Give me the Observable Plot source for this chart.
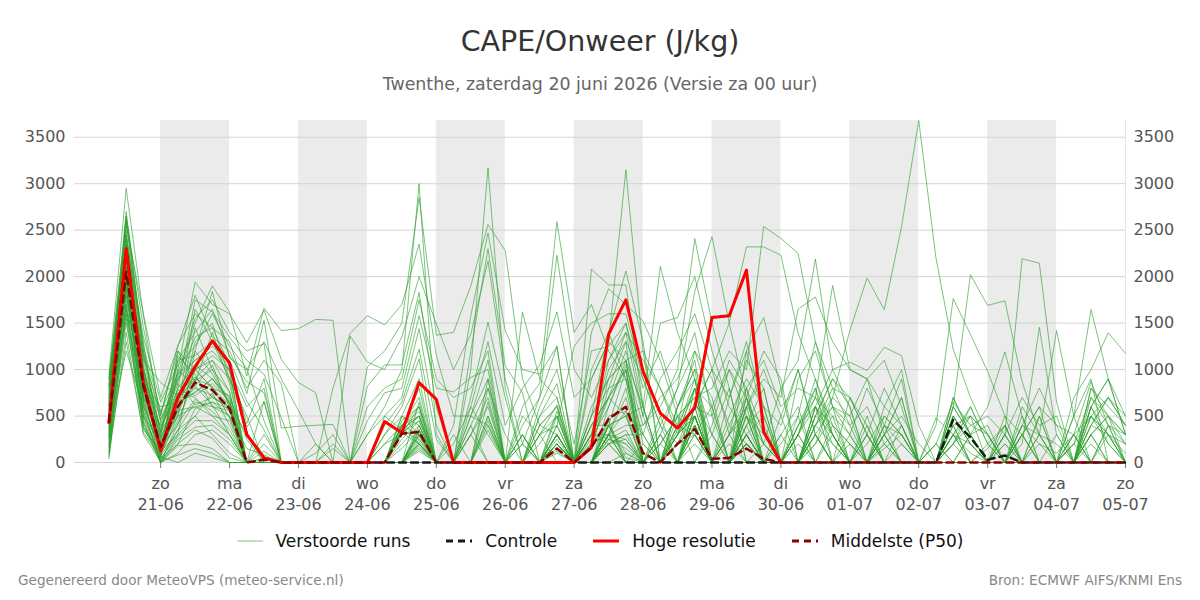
<!DOCTYPE html>
<html>
<head>
<meta charset="utf-8">
<script src="https://cdn.jsdelivr.net/npm/d3@7"></script>
<script src="https://cdn.jsdelivr.net/npm/@observablehq/plot@0.6"></script>
<style>
  body { margin: 0; background: #fff; font-family: "DejaVu Sans", sans-serif; }
  #wrap { position: relative; width: 1200px; height: 600px; overflow: hidden; }
  #title { position: absolute; top: 22px; left: 0; width: 1200px; text-align: center; font-size: 28.5px; line-height: 40px; color: #333; }
  #subtitle { position: absolute; top: 72px; left: 0; width: 1200px; text-align: center; font-size: 17.4px; line-height: 24px; color: #666; }
  #chart { position: absolute; top: 100px; left: 0; }
  #legend { position: absolute; top: 528px; left: 0; width: 1200px; display: flex; justify-content: center; font-size: 17px; line-height: 26px; color: #111; }
  #legend .item { display: flex; align-items: center; margin: 0 18px; }
  #legend svg { margin-right: 13px; }
  #foot-left { position: absolute; top: 571px; left: 18px; font-size: 13.6px; line-height: 18px; color: #888; }
  #foot-right { position: absolute; top: 571px; right: 18px; font-size: 13.6px; line-height: 18px; color: #888; }
</style>
</head>
<body>
<div id="wrap">
  <div id="title">CAPE/Onweer (J/kg)</div>
  <div id="subtitle">Twenthe, zaterdag 20 juni 2026 (Versie za 00 uur)</div>
  <div id="chart"></div>
  <div id="legend"></div>
  <div id="foot-left">Gegenereerd door MeteoVPS (meteo-service.nl)</div>
  <div id="foot-right">Bron: ECMWF AIFS/KNMI Ens</div>
</div>
<script>
// Forecast time axis: 6-hourly steps from the first forecast time
const firstTime = "2026-06-20T06:00Z";
const stepHours = 6;
const nSteps = 60;

// Day ticks and their Dutch weekday abbreviations
const tickDays = ["2026-06-21","2026-06-22","2026-06-23","2026-06-24","2026-06-25","2026-06-26","2026-06-27",
                  "2026-06-28","2026-06-29","2026-06-30","2026-07-01","2026-07-02","2026-07-03","2026-07-04","2026-07-05"];
const weekdays = ["zo","ma","di","wo","do","vr","za"];
const shadedDays = ["2026-06-21","2026-06-23","2026-06-25","2026-06-27","2026-06-29","2026-07-01","2026-07-03"];
const yTicks = [0, 500, 1000, 1500, 2000, 2500, 3000, 3500];
const yMax = 3680;

// High-resolution run (CAPE, J/kg) – available up to 30-06 00 uur
const hires = [430,2300,850, 130,700,1030,1310, 1070,300,50,0, 0,0,0,0, 0,440,320,860, 680,0,0,0,
               0,0,0,0, 0,160,1380,1750, 980,530,370,590, 1560,1580,2070,330, 0];

// Control run
const control = [430,2300,850, 130,700,1030,1310, 1070,300,50,0, 0,0,0,0, 0,0,0,0, 0,0,0,0,
                 0,0,0,0, 0,0,0,0, 0,0,0,0, 0,0,0,0, 0,0,0,0, 0,0,0,0, 0,0,460,270, 30,75,0,0, 0,0,0,0, 0];

// Ensemble median (P50)
const median = [440,2050,820, 170,600,860,780, 580,0,30,0, 0,0,0,0, 0,0,310,330, 0,0,0,0,
                0,0,0,150, 0,160,470,600, 100,0,200,360, 40,50,150,40, 0,0,0,0, 0,0,0,0, 0,0,0,0, 0,0,0,0, 0,0,0,0, 0];

// Perturbed ensemble members (50 runs)
const members = [
  [950,2950,1580, 420,900,1500,1900, 1620,930,1660,1420, 1440,1540,1530,0, 0,0,0,120, 0,0,300,600, 0,0,300,620, 0,150,800,1300, 900,400,200,650, 300,0,0,200, 0,300,600,200, 0,0,150,300, 0,0,300,200, 0,0,0,200, 100,300,500,200, 0],
  [820,2700,1200, 300,1000,1940,1700, 1600,1290,1640,1110, 860,750,0,0, 0,0,0,650, 0,0,500,900, 0,200,700,1250, 0,300,1100,1500, 600,0,350,900, 0,0,400,800, 0,300,0,0, 0,0,300,0, 0,0,0,0, 150,400,0,300, 0,0,300,500, 0],
  [700,2650,1450, 500,1260,1600,1450, 1300,740,1530,370, 390,400,410,0, 0,500,700,1440, 400,0,300,700, 0,0,0,200, 0,0,500,550, 300,0,0,400, 0,0,1200,500, 0,400,800,0, 0,0,0,0, 0,0,300,100, 0,200,0,0, 0,0,400,700, 400],
  [600,2600,1100, 860,720,1200,1840, 1120,1000,1300,900, 560,200,0,0, 0,0,400,550, 0,0,400,0, 0,300,0,400, 0,250,600,1050, 400,700,900,1400, 500,0,300,0, 0,0,0,0, 700,400,0,0, 0,0,400,0, 0,0,300,0, 0,300,0,0, 0],
  [880,2500,1000, 250,800,1750,1620, 1350,1100,950,480, 0,0,0,0, 300,600,1000,3000, 300,0,0,0, 0,0,400,600, 0,200,900,1100, 200,0,0,600, 1000,300,0,0, 0,0,0,0, 0,400,0,0, 0,0,0,0, 0,0,400,200, 0,0,500,300, 200],
  [500,2450,950, 100,1100,1400,1650, 1150,870,750,0, 0,0,0,0, 0,0,500,900, 0,0,0,350, 0,0,0,300, 0,500,1400,900, 0,0,600,1100, 0,300,700,200, 800,0,0,0, 0,0,600,1000, 0,0,0,0, 0,0,0,0, 0,0,0,0, 0],
  [430,2400,900, 200,600,1650,1300, 1000,0,660,0, 0,0,0,0, 0,0,350,800, 0,0,1000,3170, 800,0,0,0, 0,0,400,500, 0,500,0,0, 300,800,0,0, 0,0,0,0, 200,0,0,0, 0,0,0,0, 0,0,0,0, 0,0,0,0, 0],
  [300,2350,1300, 80,500,1300,1500, 900,0,300,0, 0,0,0,0, 0,0,400,700, 0,300,0,0, 0,500,300,0, 0,0,600,1100, 1200,800,300,800, 0,0,400,600, 400,1000,300,0, 0,300,800,400, 0,0,0,0, 0,0,0,0, 0,0,0,0, 0],
  [650,2300,820, 150,950,1100,1200, 980,0,0,0, 0,0,0,0, 0,0,350,500, 0,400,1580,2470, 1420,1000,950,1250, 0,0,300,550, 0,0,0,500, 0,0,500,0, 0,0,300,600, 500,0,0,0, 0,0,200,500, 300,0,0,0, 0,200,700,400, 200],
  [200,2250,700, 400,700,900,1100, 760,0,0,0, 0,0,0,0, 0,0,320,450, 0,0,1200,2300, 1040,750,0,550, 0,400,700,1000, 0,0,200,300, 600,0,0,0, 0,400,600,0, 0,0,0,0, 0,0,0,0, 0,0,0,0, 0,0,0,0, 0],
  [780,2200,1050, 50,1200,860,1400, 850,0,0,0, 0,0,0,0, 0,0,0,400, 0,0,700,1510, 700,0,0,0, 0,500,800,900, 0,0,0,0, 0,0,700,1200, 900,0,0,0, 0,0,0,0, 0,0,0,0, 0,0,0,0, 0,0,0,0, 0],
  [100,2150,600, 180,400,1000,800, 720,0,0,0, 0,0,0,0, 0,0,0,360, 0,0,600,1300, 400,800,1050,1620, 700,900,1300,1100, 600,0,0,0, 0,500,900,600, 0,0,0,0, 0,0,0,0, 0,0,200,400, 300,0,0,0, 0,0,300,0, 0],
  [560,2100,880, 600,650,750,900, 680,0,120,0, 0,0,0,0, 0,0,0,340, 0,0,0,900, 0,600,850,2590, 1400,1700,1200,900, 300,0,0,0, 400,1000,700,0, 300,600,0,0, 0,0,0,0, 0,0,600,300, 0,300,0,500, 0,0,600,900, 500],
  [350,2100,780, 120,300,1200,950, 640,0,0,0, 0,0,0,0, 0,0,0,330, 0,0,0,800, 0,400,700,2230, 1000,700,1100,1400, 500,0,0,300, 0,300,1100,800, 0,0,600,300, 0,0,300,700, 0,200,0,0, 0,0,0,0, 0,0,0,0, 0],
  [900,2050,1150, 350,850,620,700, 600,0,0,0, 0,0,0,0, 0,0,0,300, 0,0,0,650, 0,0,600,1000, 200,1200,1250,1500, 800,1200,600,1000, 700,0,0,0, 0,0,500,900, 700,300,0,0, 0,0,0,0, 0,0,0,0, 0,0,0,0, 0],
  [250,2000,650, 60,1000,820,1050, 590,0,200,0, 0,0,0,0, 0,0,0,280, 0,0,0,500, 0,0,500,850, 0,600,900,1400, 1100,800,400,1200, 900,400,200,0, 0,300,700,500, 300,0,0,0, 0,0,300,600, 200,0,500,0, 0,0,0,400, 0],
  [620,1950,500, 230,550,1450,1000, 620,300,0,0, 0,0,0,0, 0,0,0,250, 0,0,0,400, 0,1620,900,700, 0,300,1000,1300, 0,0,0,500, 0,200,0,0, 500,1000,300,0, 0,0,0,0, 0,0,0,0, 0,0,0,0, 0,0,0,0, 0],
  [160,1900,420, 40,200,580,650, 580,0,0,0, 0,0,0,0, 0,0,0,220, 0,0,0,0, 0,0,300,400, 1250,1500,1600,1600, 900,400,0,0, 0,700,1300,600, 0,0,400,800, 700,300,0,0, 0,0,500,200, 0,0,0,0, 0,300,0,0, 0],
  [720,1850,980, 280,1150,950,600, 500,150,80,0, 0,0,0,0, 0,0,0,200, 0,0,0,0, 0,0,0,300, 0,2080,1910,1910, 600,0,300,800, 600,1000,500,0, 0,300,900,400, 200,0,400,900, 0,200,0,0, 0,0,300,600, 0,0,800,500, 300],
  [480,1800,760, 140,750,700,500, 450,0,0,0, 0,0,0,0, 0,0,0,180, 0,0,0,0, 0,0,0,200, 0,1400,1870,1700, 1520,1100,500,0, 0,0,600,1000, 500,0,300,0, 0,0,0,0, 0,0,0,0, 0,200,0,0, 0,0,300,0, 0],
  [40,1750,540, 20,350,500,750, 400,0,0,0, 0,0,0,0, 0,0,0,160, 0,0,0,0, 0,0,0,150, 0,1000,1400,2060, 1300,0,300,600, 500,1100,800,0, 0,0,500,900, 600,0,0,0, 0,0,0,0, 0,0,0,0, 0,0,0,0, 0],
  [390,1700,380, 90,600,820,620, 300,0,0,0, 0,0,0,0, 0,0,0,140, 0,0,0,0, 0,0,0,120, 0,900,1300,3150, 1200,0,200,500, 0,300,500,200, 0,200,0,0, 0,0,0,0, 0,0,0,0, 0,0,0,0, 0,0,0,0, 0],
  [840,1650,1000, 470,900,1100,1250, 1100,660,350,0, 0,0,0,0, 450,750,800,1580, 800,760,915,1000, 0,0,300,500, 0,300,700,1200, 500,1500,1560,2000, 1200,600,300,0, 0,0,200,700, 500,900,300,0, 0,0,0,300, 0,0,0,0, 0,0,500,300, 0],
  [520,1600,700, 0,250,380,400, 250,0,0,0, 0,0,0,0, 0,0,500,400, 0,0,0,500, 0,0,0,200, 0,400,400,500, 600,2110,1400,900, 300,0,300,0, 200,500,0,0, 300,0,0,0, 0,0,0,0, 0,0,400,300, 0,200,0,0, 0],
  [280,1550,350, 130,800,1050,900, 700,250,0,0, 0,0,0,0, 0,0,400,500, 0,200,600,300, 0,0,0,250, 0,200,300,400, 400,600,1000,2410, 1500,800,0,0, 0,300,800,300, 0,0,500,300, 0,0,0,0, 0,0,0,0, 0,0,0,0, 0],
  [660,2550,1600, 700,1250,1800,1350, 1200,800,1100,850, 0,0,800,1390, 1580,1480,1700,2350, 1150,500,500,400, 0,300,0,300, 0,0,300,200, 0,300,800,1840, 2430,1500,700,0, 0,0,0,0, 0,200,500,300, 0,0,400,500, 300,0,400,800, 400,0,600,900, 300],
  [150,1500,450, 0,100,300,350, 200,0,0,0, 0,0,0,0, 0,0,0,0, 0,0,0,0, 0,0,0,200, 0,300,200,300, 300,900,1200,1600, 1000,1500,2320,2320, 2230,1390,900,300, 0,0,300,700, 0,0,400,0, 0,500,300,0, 0,300,870,400, 0],
  [580,2650,1250, 550,950,1550,1750, 1400,1200,1280,0, 0,0,0,1360, 1080,1000,1350,2000, 1490,1000,1380,2170, 900,200,0,300, 0,0,400,100, 0,0,500,700, 800,1200,1000,2540, 2410,2250,1300,600, 300,800,400,0, 0,480,300,0, 0,0,600,300, 200,0,700,500, 200],
  [450,2000,870, 170,700,880,1000, 760,0,50,0, 0,0,0,0, 0,0,450,600, 0,0,500,1100, 0,0,0,200, 0,0,250,350, 0,0,300,600, 1000,700,1200,1560, 800,1100,2190,1000, 600,0,0,0, 0,0,200,600, 200,400,0,0, 0,200,500,700, 500],
  [760,2300,1100, 320,680,1000,1100, 900,380,650,0, 0,0,0,0, 0,400,650,1220, 250,0,400,800, 300,0,500,700, 0,500,900,1100, 0,0,0,200, 0,0,600,900, 700,1650,1780,1300, 1000,900,1100,600, 0,0,700,300, 600,1190,500,0, 0,0,400,300, 0],
  [330,1200,600, 0,180,200,150, 0,0,0,0, 0,0,0,0, 0,200,400,600, 0,0,0,0, 0,0,0,300, 0,0,300,250, 0,0,400,500, 0,0,800,1100, 600,800,700,1905, 1000,900,600,400, 0,200,650,400, 500,300,0,0, 300,0,800,600, 400],
  [120,1300,320, 60,0,100,50, 0,0,0,0, 0,0,0,0, 0,0,300,500, 0,0,0,0, 0,0,0,0, 0,0,200,0, 0,0,0,400, 0,0,200,0, 0,0,400,700, 1420,1985,1644,2535, 3680,2200,1220,700, 300,0,0,0, 0,0,0,0, 0],
  [470,2050,820, 210,500,600,500, 300,0,0,0, 0,200,0,0, 0,0,350,500, 0,0,300,0, 0,0,0,100, 0,0,400,1000, 0,0,600,1000, 0,0,500,300, 0,0,200,500, 0,500,0,0, 0,400,1763,1380, 980,500,0,0, 0,0,300,500, 300],
  [690,2200,940, 380,780,720,850, 660,0,30,0, 0,0,0,0, 0,0,400,300, 0,0,0,450, 0,0,0,200, 0,400,700,500, 0,0,400,800, 0,300,600,0, 0,300,0,0, 0,0,200,400, 0,0,600,2020, 1690,1740,870,300, 0,0,0,300, 0],
  [230,1900,560, 0,420,680,550, 350,0,0,0, 0,0,0,0, 0,0,0,200, 0,0,0,0, 0,0,0,200, 0,300,250,150, 0,0,0,500, 0,0,300,500, 0,0,400,600, 400,0,0,0, 0,0,300,0, 0,300,2192,2145, 650,0,0,0, 0],
  [810,2400,1350, 650,1050,1250,1600, 1250,1010,450,0, 0,0,0,0, 1030,1200,1500,2850, 1370,1400,1900,2560, 2280,900,400,300, 0,0,300,0, 0,0,0,300, 0,0,400,0, 0,0,600,400, 200,0,0,0, 0,0,500,200, 0,0,300,600, 400,300,0,0, 0],
  [60,1400,300, 10,80,150,100, 0,0,0,0, 0,0,0,0, 0,0,200,400, 0,0,0,0, 0,0,0,0, 0,0,200,0, 0,0,300,500, 0,0,0,0, 0,0,300,0, 0,300,0,0, 0,0,0,0, 0,0,200,1455, 300,0,600,200, 0],
  [540,2150,740, 150,620,800,720, 560,0,0,0, 0,0,150,0, 0,0,330,300, 0,0,0,0, 0,0,0,200, 0,300,300,700, 0,0,0,400, 0,0,700,200, 0,0,0,0, 0,0,400,300, 0,0,300,500, 0,0,0,300, 1420,500,0,0, 0],
  [380,1950,660, 100,450,900,820, 480,0,0,0, 0,0,0,0, 0,0,0,200, 0,0,0,0, 0,0,0,200, 0,0,200,300, 0,200,0,500, 0,0,300,0, 0,0,0,400, 0,0,0,0, 0,0,0,0, 0,300,0,0, 0,500,1646,900, 300],
  [920,2600,1200, 450,870,1350,1450, 1050,420,900,0, 0,0,0,0, 820,1050,1050,1830, 600,0,0,0, 0,0,0,400, 0,0,400,0, 0,300,0,800, 0,0,500,0, 0,0,500,300, 0,0,300,0, 0,0,0,0, 0,0,0,500, 0,700,1000,1395, 1174],
  [270,1650,480, 40,300,500,300, 100,0,0,0, 0,0,0,0, 0,300,500,300, 0,0,0,0, 0,0,0,0, 0,0,0,0, 0,0,200,400, 0,0,200,0, 0,0,0,0, 0,0,200,0, 0,0,0,0, 0,0,0,0, 0,0,0,0, 0],
  [600,2100,920, 270,640,760,900, 640,0,0,0, 0,100,300,0, 300,500,350,250, 0,0,0,0, 0,0,200,500, 0,200,700,1000, 0,0,600,900, 0,400,800,300, 0,500,1300,800, 400,600,200,0, 0,0,700,300, 400,0,0,0, 0,0,600,300, 100],
  [410,1800,700, 160,520,1000,800, 620,0,0,0, 0,0,0,0, 0,0,0,300, 0,0,0,0, 0,300,0,300, 0,0,250,200, 0,400,800,1200, 600,0,300,0, 0,0,600,1000, 1080,990,1240,1150, 400,0,0,0, 0,0,0,0, 0,500,900,0, 0],
  [190,1700,420, 0,200,350,260, 50,0,0,0, 0,0,0,0, 0,0,250,450, 0,0,0,0, 0,0,0,0, 0,0,300,0, 0,0,0,400, 0,0,200,0, 300,0,0,300, 0,0,0,200, 0,0,200,0, 0,0,300,0, 0,0,200,0, 0],
  [730,2350,1000, 330,1100,1150,1300, 900,500,0,0, 0,0,200,0, 0,300,600,1115, 0,0,0,0, 0,0,400,600, 0,0,300,800, 0,200,500,300, 0,0,600,400, 0,900,1200,600, 0,0,300,500, 200,0,600,300, 0,300,700,400, 500,0,0,400, 300],
  [300,2000,500, 70,350,650,600, 560,0,0,0, 0,0,0,0, 0,200,300,600, 0,0,0,0, 0,0,0,0, 0,0,400,50, 0,300,0,600, 0,0,200,0, 0,0,300,0, 0,0,0,0, 0,0,0,300, 0,0,0,0, 0,0,0,0, 0],
  [840,2450,1150, 520,1200,1000,1150, 1000,600,800,0, 0,0,0,0, 600,800,900,1750, 900,700,800,1200, 0,200,0,500, 0,0,300,0, 200,0,0,600, 0,0,300,0, 0,400,700,300, 0,0,0,400, 0,0,500,200, 0,400,0,0, 0,0,400,700, 400],
  [90,1600,380, 0,280,450,450, 300,0,0,0, 0,0,0,0, 0,0,150,350, 0,0,0,0, 0,0,0,0, 0,0,0,100, 0,0,400,300, 0,0,200,0, 0,0,0,0, 0,0,0,0, 0,0,0,0, 0,0,0,0, 0,0,0,0, 0],
  [620,2250,850, 230,740,920,700, 600,0,0,0, 0,0,0,0, 0,0,380,200, 0,0,0,0, 0,0,0,0, 0,0,200,250, 0,200,500,700, 0,0,200,0, 0,0,400,200, 0,300,0,0, 0,0,0,0, 200,0,0,0, 0,0,0,0, 0],
  [350,1850,620, 110,560,600,650, 500,0,0,0, 0,0,0,0, 0,0,320,200, 0,0,0,0, 0,0,0,0, 0,0,450,0, 0,0,300,500, 0,0,200,0, 0,0,0,0, 0,0,400,200, 0,0,0,0, 0,0,0,0, 0,0,0,0, 0]
];

const HOUR = 3600 * 1000, DAY = 24 * HOUR;
const t0 = new Date(firstTime).getTime();
const times = d3.range(nSteps).map(i => new Date(t0 + i * stepHours * HOUR));
const utcDay = s => new Date(s + "T00:00Z");
const xStart = new Date(t0 - 12 * HOUR);
const xEnd = utcDay(tickDays[tickDays.length - 1]);

const toRows = arr => arr.map((v, i) => ({t: times[i], v}));
const perturbedRows = members.flatMap((row, m) => row.map((v, i) => ({t: times[i], v, m})));

const green = "#2ca02c";
const font = '"DejaVu Sans", sans-serif';
const dayFmt = d => `${weekdays[d.getUTCDay()]}\n${String(d.getUTCDate()).padStart(2, "0")}-${String(d.getUTCMonth() + 1).padStart(2, "0")}`;

const chart = Plot.plot({
  width: 1200,
  height: 420,
  marginTop: 20,
  marginBottom: 58,
  marginLeft: 74,
  marginRight: 75,
  style: {fontFamily: font, fontSize: "16px", color: "#555", background: "transparent"},
  x: {type: "utc", domain: [xStart, xEnd]},
  y: {domain: [0, yMax]},
  marks: [
    Plot.rect(shadedDays, {x1: d => utcDay(d), x2: d => new Date(utcDay(d).getTime() + DAY), fill: "#ebebeb"}),
    Plot.gridY(yTicks, {stroke: "#d4d4d4", strokeOpacity: 1, strokeWidth: 1}),
    Plot.ruleX([xEnd], {stroke: "#e4e4e4"}),
    Plot.axisY(yTicks, {anchor: "left", tickSize: 0, tickPadding: 9, tickFormat: "d", label: null, fill: "#555"}),
    Plot.axisY(yTicks, {anchor: "right", tickSize: 0, tickPadding: 8, tickFormat: "d", label: null, fill: "#555"}),
    Plot.axisX(tickDays.map(utcDay), {tickSize: 6, tickPadding: 6, tickFormat: dayFmt, lineHeight: 1.3, label: null, stroke: "#777", fill: "#555"}),
    Plot.line(perturbedRows, {x: "t", y: "v", z: "m", stroke: green, strokeWidth: 1, strokeOpacity: 0.62}),
    Plot.line(toRows(control), {x: "t", y: "v", stroke: "#1a1a1a", strokeWidth: 2.5, strokeDasharray: "7,5"}),
    Plot.line(toRows(hires), {x: "t", y: "v", stroke: "#ff0000", strokeWidth: 3}),
    Plot.line(toRows(median), {x: "t", y: "v", stroke: "#8b0000", strokeWidth: 2.5, strokeDasharray: "7,5"})
  ]
});
document.getElementById("chart").appendChild(chart);

// Legend entries
const legendItems = [
  {label: "Verstoorde runs", stroke: green, width: 1, opacity: 0.6, dash: null},
  {label: "Controle", stroke: "#1a1a1a", width: 3, opacity: 1, dash: "7,5"},
  {label: "Hoge resolutie", stroke: "#ff0000", width: 3, opacity: 1, dash: null},
  {label: "Middelste (P50)", stroke: "#8b0000", width: 3, opacity: 1, dash: "7,5"}
];
const legend = document.getElementById("legend");
for (const it of legendItems) {
  const item = document.createElement("div");
  item.className = "item";
  item.innerHTML = `<svg width="26" height="12"><line x1="0" y1="6" x2="26" y2="6" stroke="${it.stroke}" stroke-width="${it.width}" stroke-opacity="${it.opacity}" ${it.dash ? `stroke-dasharray="${it.dash}"` : ""}/></svg><span>${it.label}</span>`;
  legend.appendChild(item);
}
</script>
</body>
</html>
